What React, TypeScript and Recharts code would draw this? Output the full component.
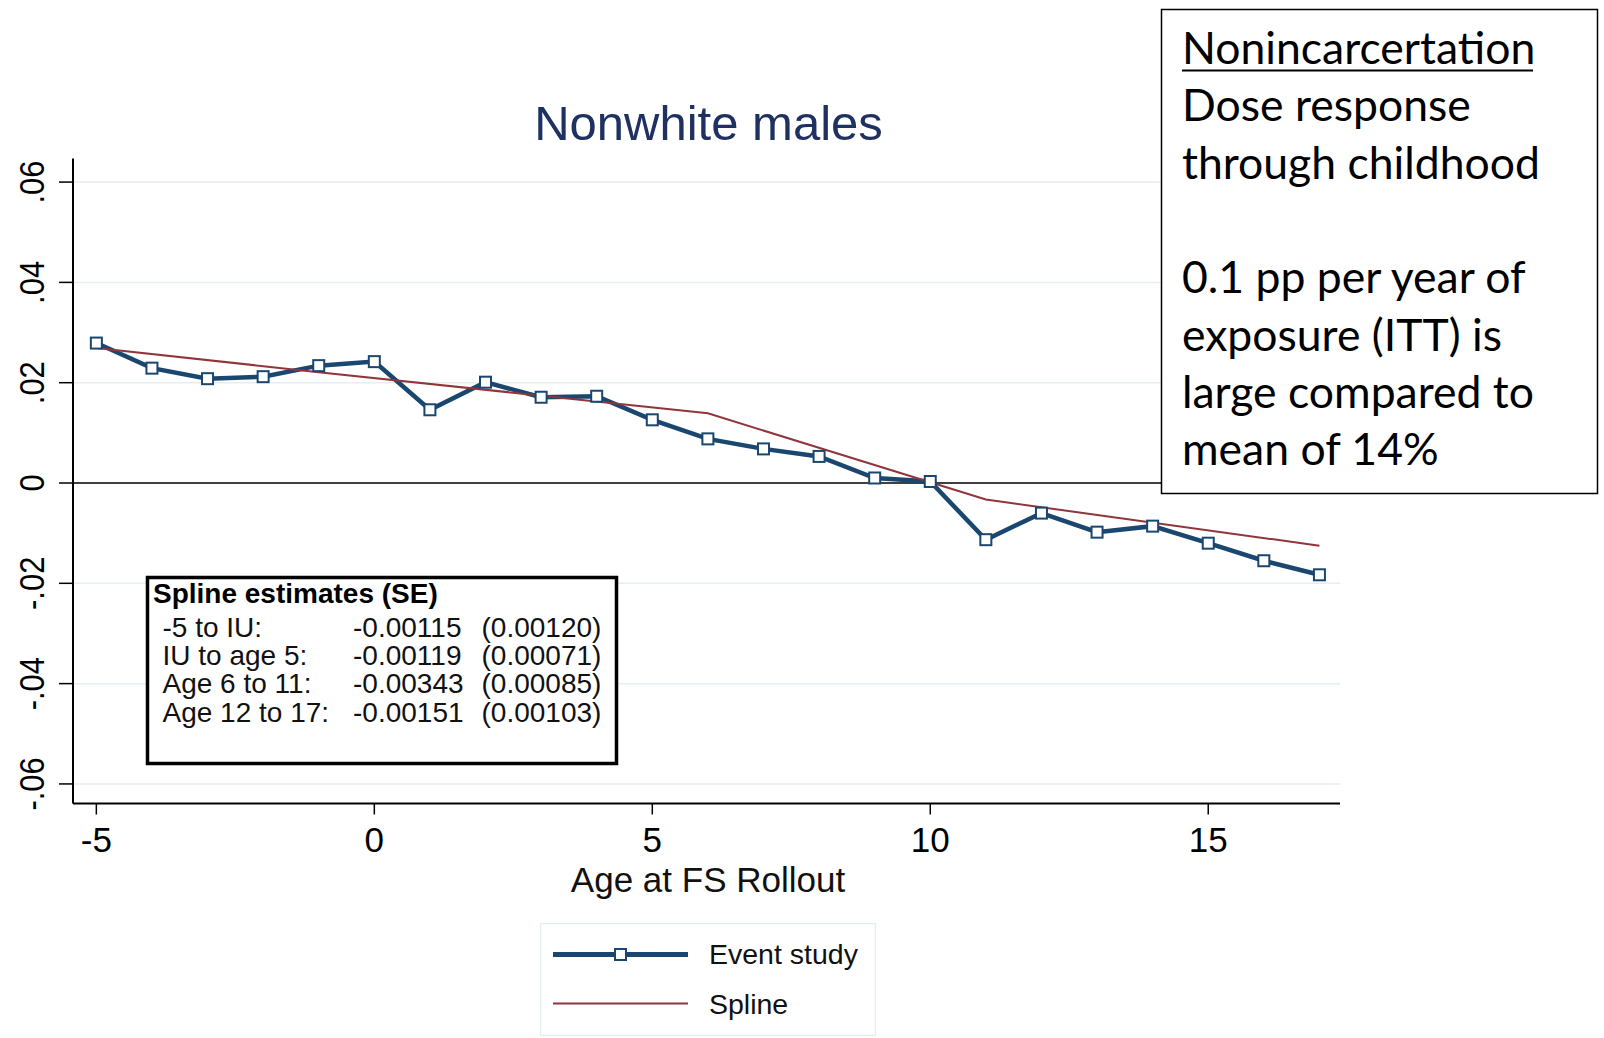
import React from 'react';
import {
  LineChart,
  Line,
  XAxis,
  YAxis,
  ReferenceLine,
  Legend,
  Customized,
} from 'recharts';

// age at food stamp rollout
const ages = [-5, -4, -3, -2, -1, 0, 1, 2, 3, 4, 5, 6, 7, 8, 9, 10, 11, 12, 13, 14, 15, 16, 17];

// event study coefficients
const eventStudy = [
  0.0279, 0.0229, 0.0208, 0.0212, 0.0234, 0.0242, 0.0146, 0.0201, 0.0171, 0.0173, 0.0126, 0.0088,
  0.0068, 0.0053, 0.001, 0.0003, -0.0113, -0.006, -0.0098, -0.0086, -0.012, -0.0155, -0.0183,
];

// piecewise linear spline, values at its knots
const splineAges = [-5, -1, 6, 11, 17];
const splineValues = [0.0269, 0.0221, 0.0139, -0.0033, -0.0125];

const xTicks = [-5, 0, 5, 10, 15];
const yTicks = [-0.06, -0.04, -0.02, 0, 0.02, 0.04, 0.06];
const yTickLabels = ['-.06', '-.04', '-.02', '0', '.02', '.04', '.06'];

const splineRows = [
  ['-5 to IU:', '-0.00115', '(0.00120)'],
  ['IU to age 5:', '-0.00119', '(0.00071)'],
  ['Age 6 to 11:', '-0.00343', '(0.00085)'],
  ['Age 12 to 17:', '-0.00151', '(0.00103)'],
];

const noteLines = [
  'Nonincarcertation',
  'Dose response',
  'through childhood',
  '',
  '0.1 pp per year of',
  'exposure (ITT) is',
  'large compared to',
  'mean of 14%',
];

const NAVY = '#1a476f';
const MAROON = '#90353b';
const GRID = '#e6eef1';
const FONT = '"Liberation Sans", Arial, sans-serif';

const data = ages.map((age, i) => {
  const k = splineAges.indexOf(age);
  return { age, event: eventStudy[i], spline: k >= 0 ? splineValues[k] : null };
});

const SquareDot = (props: any) => {
  const { cx, cy, index } = props;
  if (cx == null || cy == null) return null;
  return (
    <rect
      key={`dot-${index}`}
      x={cx - 5.5}
      y={cy - 5.5}
      width={11}
      height={11}
      fill="#fff"
      stroke={NAVY}
      strokeWidth={2}
    />
  );
};

const YTick = (props: any) => {
  const { y, index } = props;
  return (
    <text
      transform={`translate(44, ${y}) rotate(-90) scale(0.86, 1)`}
      textAnchor="middle"
      fontSize={36}
      fontFamily={FONT}
      fill="#000"
    >
      {yTickLabels[index]}
    </text>
  );
};

const XTick = (props: any) => {
  const { x, payload } = props;
  return (
    <text x={x} y={852} textAnchor="middle" fontSize={35} fontFamily={FONT} fill="#000">
      {payload.value}
    </text>
  );
};

const LegendBox = (props: any) => {
  const items = props.payload || [];
  return (
    <svg width={336} height={113} style={{ display: 'block' }}>
      <rect x={0.5} y={0.5} width={335} height={112} fill="#fff" stroke="#e3ecee" strokeWidth={1.5} />
      {items.map((item: any, i: number) => {
        const yy = i === 0 ? 31.5 : 80.5;
        const thick = item.dataKey === 'event';
        return (
          <g key={item.value}>
            <line
              x1={13}
              x2={148}
              y1={yy}
              y2={yy}
              stroke={item.color}
              strokeWidth={thick ? 5 : 2}
            />
            {thick && (
              <rect x={75} y={yy - 5.5} width={11} height={11} fill="#fff" stroke={NAVY} strokeWidth={2} />
            )}
            <text x={169} y={i === 0 ? 41 : 91} fontSize={28.5} fontFamily={FONT} fill="#111">
              {item.value}
            </text>
          </g>
        );
      })}
    </svg>
  );
};

const Titles = () => (
  <g>
    <text x={708.5} y={140} textAnchor="middle" fontSize={49} fontFamily={FONT} fill="#1e3160">
      Nonwhite males
    </text>
    <text x={708} y={892} textAnchor="middle" fontSize={35} fontFamily={FONT} fill="#111">
      Age at FS Rollout
    </text>
  </g>
);

// spline estimates box, laid over the plot
const SplineBox = () => (
  <svg
    width={476}
    height={194}
    style={{ position: 'absolute', left: 144, top: 574, pointerEvents: 'none' }}
  >
    <rect x={3.5} y={3.5} width={469} height={186} fill="#fff" stroke="#000" strokeWidth={3.5} />
    <text x={9} y={29} fontSize={28} fontWeight="bold" fontFamily={FONT} fill="#000">
      Spline estimates (SE)
    </text>
    {splineRows.map((row, i) => {
      const by = 62.5 + i * 28.4;
      return (
        <g key={row[0]} fontSize={28} fontFamily={FONT} fill="#111">
          <text x={18.5} y={by}>{row[0]}</text>
          <text x={209} y={by}>{row[1]}</text>
          <text x={337.5} y={by}>{row[2]}</text>
        </g>
      );
    })}
  </svg>
);

// text box sitting on top of the chart
const NoteBox = () => (
  <svg
    width={440}
    height={490}
    style={{ position: 'absolute', left: 1160, top: 8, pointerEvents: 'none' }}
  >
    <rect x={1.5} y={1.5} width={436} height={484} fill="#fff" stroke="#000" strokeWidth={1.5} />
    {noteLines.map((line, i) =>
      line ? (
        <text
          key={i}
          x={22}
          y={56 + i * 57.3}
          fontSize={44.5}
          fontFamily="Lato, 'Open Sans', sans-serif"
          fill="#000"
        >
          {line}
        </text>
      ) : null
    )}
    <line x1={22} x2={373} y1={62.5} y2={62.5} stroke="#000" strokeWidth={2} />
  </svg>
);

export default function App() {
  return (
    <div
      style={{
        position: 'absolute',
        left: 0,
        top: 0,
        width: 1604,
        height: 1038,
        background: '#fff',
        fontFamily: FONT,
      }}
    >
      <LineChart
        width={1604}
        height={1038}
        data={data}
        margin={{ top: 158.5, right: 264, bottom: 174.5, left: 0 }}
      >
        <XAxis
          dataKey="age"
          type="number"
          domain={[-5.42, 17.37]}
          ticks={xTicks}
          allowDataOverflow
          height={60}
          tickSize={11}
          axisLine={{ stroke: '#000', strokeWidth: 2 }}
          tickLine={{ stroke: '#000', strokeWidth: 1.5 }}
          tick={<XTick />}
        />
        <YAxis
          type="number"
          domain={[-0.0639, 0.0647]}
          ticks={yTicks}
          allowDataOverflow
          width={73}
          tickSize={14}
          axisLine={{ stroke: '#000', strokeWidth: 2 }}
          tickLine={{ stroke: '#000', strokeWidth: 1.5 }}
          tick={<YTick />}
        />
        {yTicks
          .filter((t) => t !== 0)
          .map((t) => (
            <ReferenceLine key={`g${t}`} y={t} stroke={GRID} strokeWidth={1.5} />
          ))}
        <ReferenceLine y={0} stroke="#000" strokeWidth={1.5} />
        <Line
          type="linear"
          dataKey="event"
          name="Event study"
          stroke={NAVY}
          strokeWidth={4.5}
          dot={<SquareDot />}
          activeDot={false}
          isAnimationActive={false}
        />
        <Line
          type="linear"
          dataKey="spline"
          name="Spline"
          stroke={MAROON}
          strokeWidth={2}
          dot={false}
          activeDot={false}
          connectNulls
          isAnimationActive={false}
        />
        <Legend
          layout="horizontal"
          verticalAlign="middle"
          align="center"
          content={<LegendBox />}
          wrapperStyle={{ left: 540, top: 923, width: 336, height: 113 }}
        />
        <Customized component={Titles} />
      </LineChart>
      <SplineBox />
      <NoteBox />
    </div>
  );
}
